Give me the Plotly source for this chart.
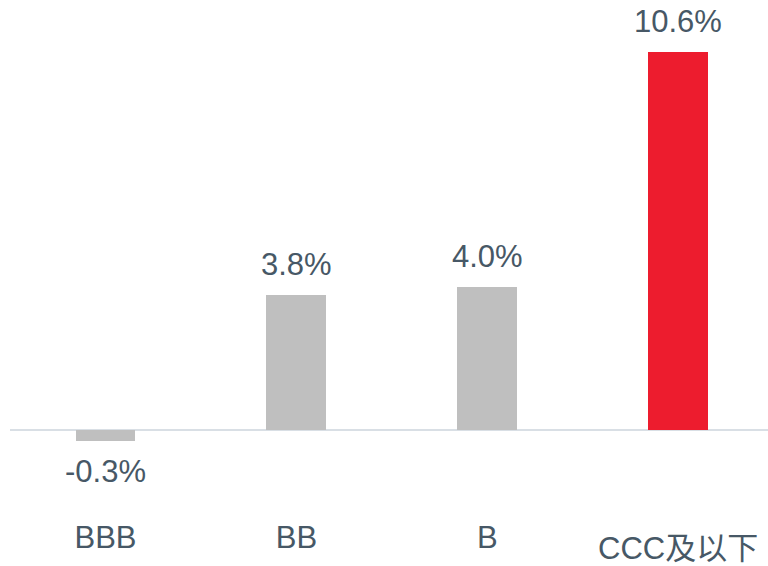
import plotly.graph_objects as go

# Rating buckets and their returns (%)
categories = ["BBB", "BB", "B", "CCC及以下"]
values = [-0.3, 3.8, 4.0, 10.6]
bar_colors = ["#BFBFBF", "#BFBFBF", "#BFBFBF", "#ED1C2E"]
value_labels = ["-0.3%", "3.8%", "4.0%", "10.6%"]

text_color = "#475866"
font_family = "Liberation Sans, Arial, Noto Sans CJK SC, sans-serif"

fig = go.Figure()
fig.add_trace(go.Bar(
    x=list(range(len(categories))),
    y=values,
    marker=dict(color=bar_colors, line=dict(width=0)),
    width=0.314,
    hoverinfo="skip",
))

# value labels above (or below, for negatives) each bar
for i, (v, lab) in enumerate(zip(values, value_labels)):
    fig.add_annotation(
        x=i, y=v, text=lab, showarrow=False,
        xanchor="center",
        yanchor="bottom" if v >= 0 else "top",
        yshift=11 if v >= 0 else -11,
        font=dict(size=31, color=text_color, family=font_family),
    )

# the last category label sits a little lower than the others
tick_text = categories[:-1] + [""]
fig.add_annotation(
    x=len(categories) - 1, xref="x", y=-0.096, yref="paper",
    text=categories[-1], showarrow=False,
    xanchor="center", yanchor="middle",
    font=dict(size=31, color=text_color, family=font_family),
)

fig.update_layout(
    width=768, height=566,
    margin=dict(l=10, r=0, t=0, b=66),
    paper_bgcolor="white", plot_bgcolor="white",
    showlegend=False,
    bargap=0,
    xaxis=dict(
        range=[-0.5, 3.469],
        tickmode="array",
        tickvals=list(range(len(categories))),
        ticktext=tick_text,
        showgrid=False, zeroline=False, showline=False,
        ticks="",
        ticklabelstandoff=16,
        tickfont=dict(size=31, color=text_color, family=font_family),
    ),
    yaxis=dict(
        range=[-1.963, 12.06],
        showgrid=False, showticklabels=False, ticks="",
        showline=False,
        zeroline=True, zerolinecolor="#D9DFE5", zerolinewidth=2,
    ),
)

fig.write_html("out.html")
